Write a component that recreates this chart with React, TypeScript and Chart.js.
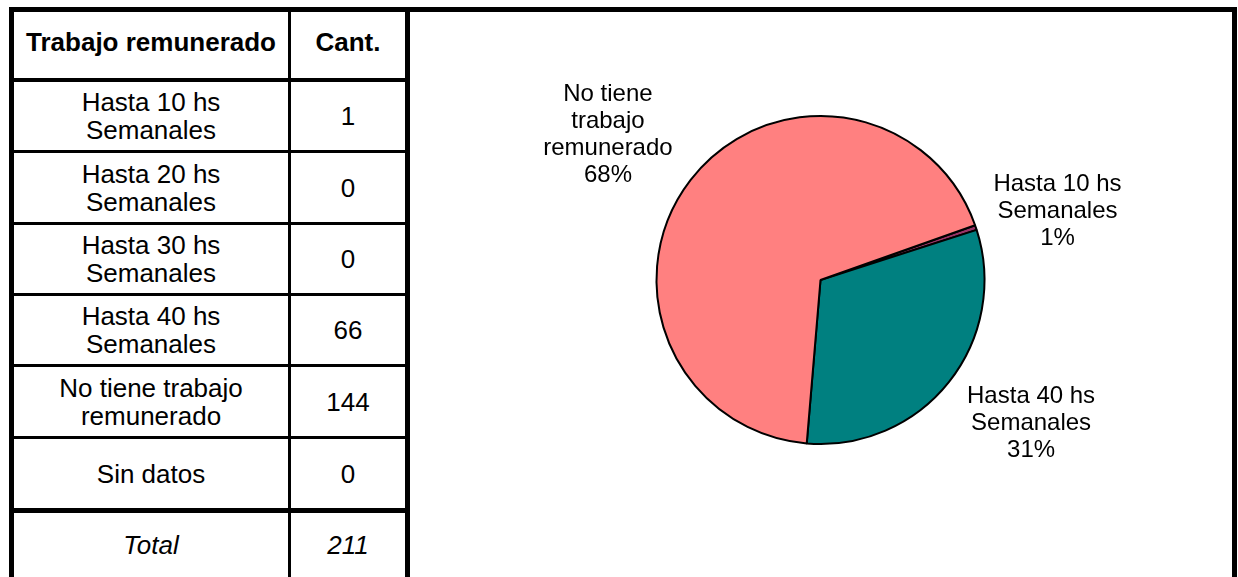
import React, { useEffect, useRef } from "react";
import { Chart, registerables } from "chart.js";

Chart.register(...registerables);

// ---------- data ----------
const headerLabel = "Trabajo remunerado";
const headerValue = "Cant.";
const categories = [
  "Hasta 10 hs Semanales",
  "Hasta 20 hs Semanales",
  "Hasta 30 hs Semanales",
  "Hasta 40 hs Semanales",
  "No tiene trabajo remunerado",
  "Sin datos",
];
const counts = [1, 0, 0, 66, 144, 0];
const totalLabel = "Total";
const totalValue = 211;
const sliceColors = ["#993366", "#9999FF", "#FFFFCC", "#008080", "#FF8080", "#CCFFFF"];

// ---------- helpers ----------
function roundedPercents(vals: number[]): number[] {
  const total = vals.reduce((a, b) => a + b, 0);
  const raw = vals.map((v) => (total ? (v / total) * 100 : 0));
  const fl = raw.map((r) => Math.floor(r));
  let left = 100 - fl.reduce((a, b) => a + b, 0);
  const order = raw
    .map((r, i) => ({ i, rem: r - Math.floor(r) }))
    .filter((o) => vals[o.i] > 0)
    .sort((a, b) => b.rem - a.rem);
  for (let k = 0; k < order.length && left > 0; k++, left--) fl[order[k].i] += 1;
  return fl;
}

function wrapWords(ctx: CanvasRenderingContext2D, text: string, maxW: number): string[] {
  const words = text.split(" ");
  const lines: string[] = [];
  let cur = "";
  for (const w of words) {
    const test = cur ? cur + " " + w : w;
    if (cur && ctx.measureText(test).width > maxW) {
      lines.push(cur);
      cur = w;
    } else cur = test;
  }
  if (cur) lines.push(cur);
  return lines;
}

const FONT = '"Liberation Sans", Arial, Helvetica, sans-serif';

// label placement, in pie-radius units from the pie centre
const labelOffsets: Record<number, [number, number]> = {
  0: [1.445, -0.43],
  3: [1.284, 0.86],
  4: [-1.296, -0.896],
};

const pieLabelsPlugin = {
  id: "pieLabels",
  afterDraw(chart: any) {
    const ctx: CanvasRenderingContext2D = chart.ctx;
    const meta = chart.getDatasetMeta(0);
    const vals: number[] = chart.data.datasets[0].data;
    const pct = roundedPercents(vals);
    ctx.save();
    ctx.font = `24px ${FONT}`;
    ctx.fillStyle = "#000";
    ctx.textAlign = "center";
    ctx.textBaseline = "alphabetic";
    const lh = 27;
    const cap = 17.2;
    meta.data.forEach((arc: any, i: number) => {
      if (!vals[i]) return;
      const off = labelOffsets[i];
      if (!off) return;
      const { x, y, outerRadius } = arc.getProps(["x", "y", "outerRadius"], true);
      const cx = x + off[0] * outerRadius;
      const cy = y + off[1] * outerRadius;
      const lines = wrapWords(ctx, String(chart.data.labels[i]), 150);
      lines.push(pct[i] + "%");
      const h = (lines.length - 1) * lh + cap;
      let by = cy - h / 2 + cap;
      for (const ln of lines) {
        ctx.fillText(ln, cx, by);
        by += lh;
      }
    });
    ctx.restore();
  },
};

// ---------- layout ----------
const rowBounds = [
  [82, 150],
  [153, 222],
  [225, 293],
  [296, 364],
  [367, 436],
  [439, 508],
];
const hLines = [
  [78, 4],
  [150, 3],
  [222, 3],
  [293, 3],
  [364, 3],
  [436, 3],
  [508, 5],
];
const COL1 = [14, 288];
const COL2 = [291, 405];

function Cell(props: { x: number[]; top: number; bottom: number; text: string | number; bold?: boolean; italic?: boolean; dy?: number; nowrap?: boolean }) {
  const { x, top, bottom, text, bold, italic, dy, nowrap } = props;
  return (
    <div
      style={{
        position: "absolute",
        left: x[0],
        top: top + (dy || 0),
        width: x[1] - x[0],
        height: bottom - top,
        display: "flex",
        alignItems: "center",
        justifyContent: "center",
      }}
    >
      <span
        style={{
          maxWidth: nowrap ? undefined : 240,
          whiteSpace: nowrap ? "nowrap" : "normal",
          textAlign: "center",
          fontSize: 26,
          lineHeight: "28px",
          fontWeight: bold ? 700 : 400,
          fontStyle: italic ? "italic" : "normal",
          color: "#000",
        }}
      >
        {text}
      </span>
    </div>
  );
}

function Bar(props: { l: number; t: number; w: number; h: number }) {
  return <div style={{ position: "absolute", left: props.l, top: props.t, width: props.w, height: props.h, background: "#000" }} />;
}

export default function App() {
  const canvasRef = useRef<HTMLCanvasElement | null>(null);

  useEffect(() => {
    const canvas = canvasRef.current;
    if (!canvas) return;
    const chart = new Chart(canvas, {
      type: "pie",
      data: {
        labels: categories,
        datasets: [
          {
            data: counts,
            backgroundColor: sliceColors,
            borderColor: "#000",
            borderWidth: 2,
          },
        ],
      },
      options: {
        responsive: false,
        animation: false,
        devicePixelRatio: 1,
        rotation: 70.5,
        layout: { padding: { left: 245.5, right: 246.5, top: 103, bottom: 132 } },
        plugins: {
          legend: { display: false },
          tooltip: { enabled: false },
          title: { display: false },
        },
      } as any,
      plugins: [pieLabelsPlugin as any],
    });
    return () => chart.destroy();
  }, []);

  return (
    <div
      style={{
        position: "absolute",
        left: 0,
        top: 0,
        width: 1238,
        height: 577,
        overflow: "hidden",
        background: "#fff",
        fontFamily: FONT,
      }}
    >
      {/* header */}
      <Cell x={COL1} top={12} bottom={78} text={headerLabel} bold dy={-3} nowrap />
      <Cell x={COL2} top={12} bottom={78} text={headerValue} bold dy={-3} nowrap />
      {categories.map((c, i) => (
        <React.Fragment key={c}>
          <Cell x={COL1} top={rowBounds[i][0]} bottom={rowBounds[i][1]} text={c} />
          <Cell x={COL2} top={rowBounds[i][0]} bottom={rowBounds[i][1]} text={counts[i]} />
        </React.Fragment>
      ))}
      <Cell x={COL1} top={513} bottom={577} text={totalLabel} italic />
      <Cell x={COL2} top={513} bottom={577} text={totalValue} italic />

      {/* lines */}
      {hLines.map(([t, h], i) => (
        <Bar key={"h" + i} l={14} t={t} w={391} h={h} />
      ))}
      <Bar l={9} t={7} w={1228} h={5} />
      <Bar l={9} t={7} w={5} h={570} />
      <Bar l={288} t={12} w={3} h={565} />
      <Bar l={405} t={7} w={5} h={570} />
      <Bar l={1232} t={7} w={5} h={570} />

      <canvas
        ref={canvasRef}
        width={822}
        height={565}
        style={{ position: "absolute", left: 410, top: 12, width: 822, height: 565 }}
      />
    </div>
  );
}
